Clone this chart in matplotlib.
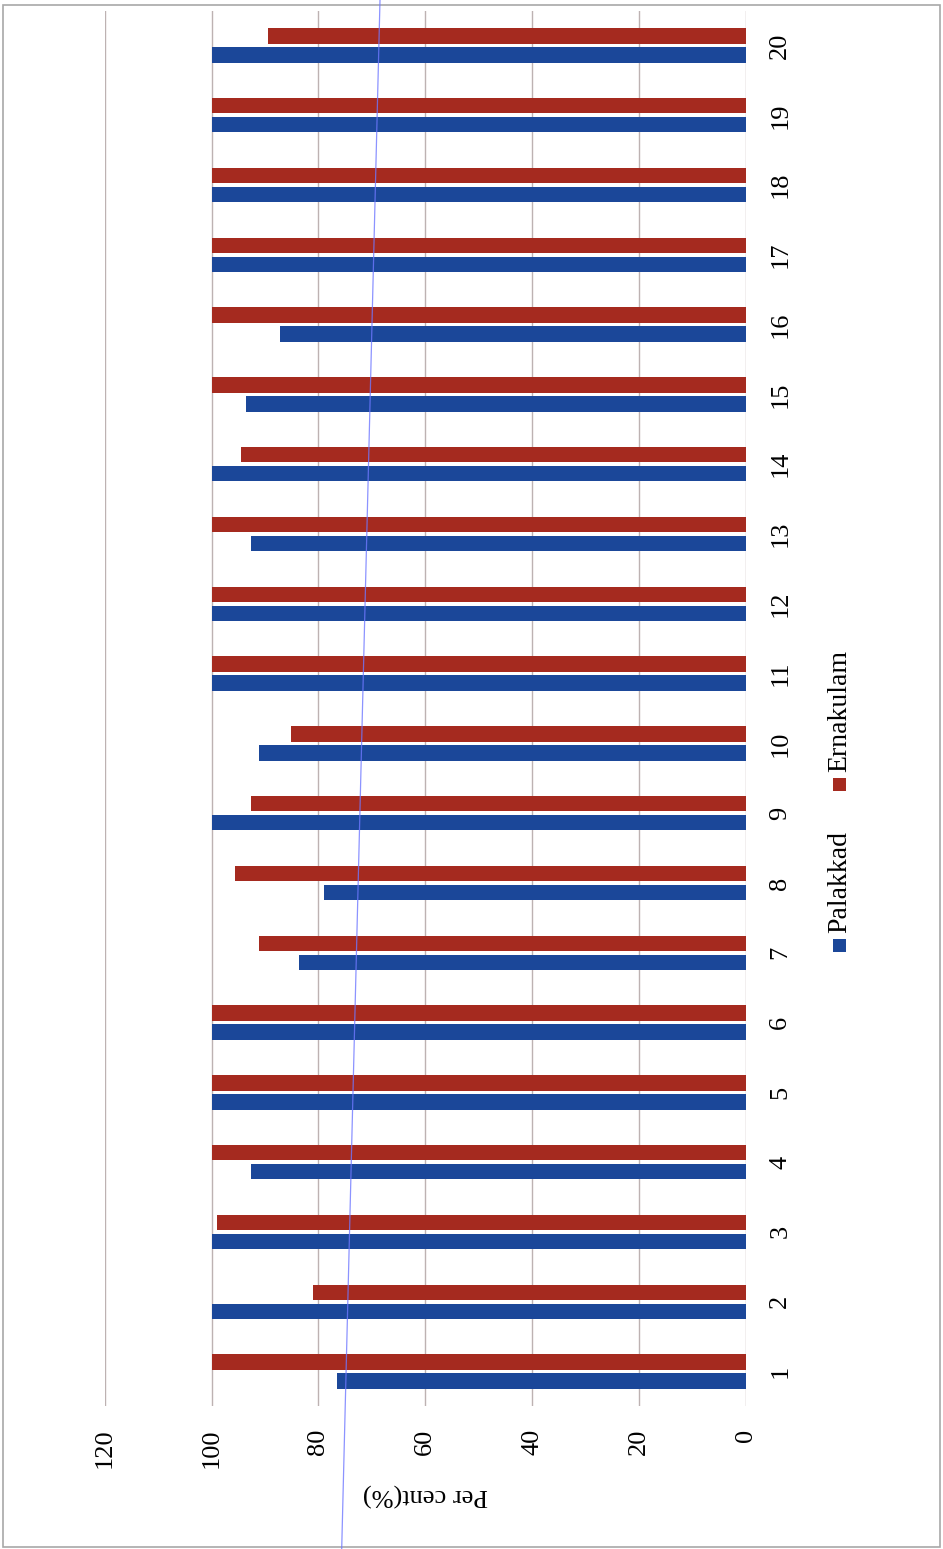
import matplotlib
matplotlib.use("Agg")
import matplotlib.pyplot as plt
from matplotlib import font_manager
from matplotlib.patches import Rectangle
from matplotlib.lines import Line2D
import numpy as np

# Pick a Times-style serif face
_names = sorted({f.name for f in font_manager.fontManager.ttflist})
_serif = next((n for n in ["Liberation Serif", "Times New Roman", "Nimbus Roman",
                           "TeX Gyre Termes", "DejaVu Serif"] if n in _names), "serif")
plt.rcParams['font.family'] = [_serif, 'DejaVu Serif']

# Data: per cent values for each item, two districts
categories = list(range(1, 21))
palakkad = [76.5, 100, 100, 92.6, 100, 100, 83.7, 79.0, 100, 91.1,
            100, 100, 92.6, 100, 93.6, 87.2, 100, 100, 100, 100]
ernakulam = [100, 81.1, 99.1, 100, 100, 100, 91.1, 95.6, 92.6, 85.2,
             100, 100, 100, 94.6, 100, 100, 100, 100, 100, 89.4]
value_ticks = [0, 20, 40, 60, 80, 100, 120]
series_names = ["Palakkad", "Ernakulam"]

BLUE = "#1b4799"
RED = "#a52a1f"
GRID = "#bdb2b2"

W, H = 943, 1549
fig = plt.figure(figsize=(W / 100, H / 100), dpi=100)
fig.patch.set_facecolor("white")

# Chart is laid out sideways: values run right-to-left, categories bottom-to-top
ax = fig.add_axes([104.9 / W, 1 - 1406.4 / H, 640.8 / W, 1395.8 / H])

y = np.array(categories, dtype=float)
h = 0.22
off = 0.136
ax.barh(y - off, palakkad, height=h, color=BLUE, zorder=2)
ax.barh(y + off, ernakulam, height=h, color=RED, zorder=2)

ax.set_xlim(120, 0)
ax.set_ylim(0.5, 20.5)
ax.set_xticks(value_ticks)
ax.xaxis.grid(True, color=GRID, linewidth=1.0, zorder=0)
ax.set_axisbelow(True)
for s in ax.spines.values():
    s.set_visible(False)

ax.tick_params(axis='x', length=0, pad=16, labelsize=19, labelrotation=90)

ax.yaxis.tick_right()
ax.set_yticks(categories)
ax.set_yticklabels([str(c) for c in categories])
ax.tick_params(axis='y', length=0, pad=17, labelsize=19, labelrotation=90)
for lbl in ax.get_yticklabels():
    lbl.set_va('center')

# Value axis title (upside down)
fig.text(425 / W, 1 - 1495 / H, "Per cent(%)", rotation=180,
         ha='center', va='center', fontsize=19)

# Legend drawn sideways
sq = 13
for name, color, ybot in [(series_names[0], BLUE, 933), (series_names[1], RED, 772)]:
    cy = ybot + 12
    fig.add_artist(Rectangle(((839 - sq / 2) / W, 1 - (cy + sq / 2) / H), sq / W, sq / H,
                             transform=fig.transFigure, facecolor=color, edgecolor='none'))
    fig.text(840 / W, 1 - ybot / H, name, rotation=90, ha='center', va='bottom', fontsize=20)

# Chart frame
fig.add_artist(Rectangle((3 / W, 1 - 1547 / H), 937 / W, 1542 / H, transform=fig.transFigure,
                         facecolor='none', edgecolor='#a8a8a8', linewidth=1.2))

# Thin pen line across the page
fig.add_artist(Line2D([380 / W, 341.7 / W], [1.0, 0.0], transform=fig.transFigure,
                      color='#6f78ff', linewidth=0.9, alpha=0.8, zorder=5))

fig.savefig("out.png", dpi=100)
